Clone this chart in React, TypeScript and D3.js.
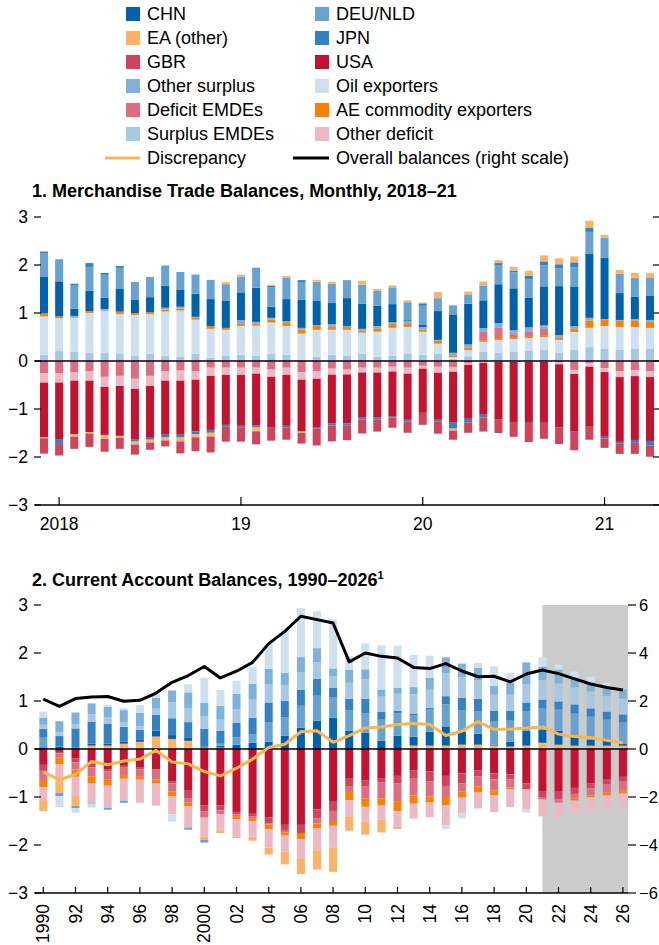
import React from 'react';
import * as d3 from 'd3';

const FONT = "'Liberation Sans', Arial, sans-serif";

// ---------- Panel 1: monthly merchandise trade balances (Dec 2017 – Apr 2021) ----------
const months: Date[] = d3.timeMonths(new Date(2017, 11, 1), new Date(2021, 4, 1));
const p1YearTickLabels = ['2018', '19', '20', '21'];

const p1SurplusEMDE = [0.13,0.22,0.19,0.17,0.17,0.15,0.11,0.15,0.11,0.09,0.15,0.07,0.11,0.13,0.11,0.15,0.13,0.03,0.09,0.13,0.11,0.15,0.09,0.11,0.15,0.13,0.15,0.04,0.1,0.19,0.17,0.19,0.21,0.23,0.17,0.23,0.29,0.25,0.23,0.25,0.25];
const p1Oil = [0.8,0.67,0.71,0.83,0.875,0.83,0.85,0.83,0.92,0.96,0.71,0.6,0.54,0.6,0.625,0.65,0.6,0.54,0.56,0.52,0.54,0.44,0.52,0.58,0.56,0.48,0.21,0.04,0.125,0.21,0.27,0.27,0.27,0.27,0.27,0.375,0.4,0.48,0.48,0.46,0.44];
const p1AEComm = [0.05,0.04,-0.02,0.04,-0.02,0.05,0.04,0.04,0.04,0.04,0.04,0.06,0.04,0.04,0.04,0.06,0.08,0.08,0.08,0.06,0.06,0.04,0.06,0.08,0.06,0.04,0.06,0.04,0.06,0.035,0.04,0.04,0.04,0.04,0.04,0.06,0.15,0.125,0.125,0.125,0.125];
const p1DeficitEMDE = [-0.26,-0.26,-0.22,-0.22,-0.31,-0.31,-0.37,-0.31,-0.22,-0.2,-0.22,-0.14,-0.14,-0.14,-0.14,-0.18,-0.14,-0.24,-0.22,-0.16,-0.18,-0.14,-0.14,-0.12,-0.14,-0.1,-0.12,-0.125,-0.04,0.17,0.21,0.06,0.1,0.125,-0.02,-0.19,-0.04,-0.15,-0.21,-0.19,-0.21];
const p1OtherDeficit = [-0.19,-0.19,-0.17,-0.19,-0.21,-0.21,-0.21,-0.21,-0.19,-0.21,-0.17,-0.17,-0.15,-0.15,-0.125,-0.15,-0.15,-0.15,-0.15,-0.125,-0.1,-0.1,-0.1,-0.1,-0.125,-0.06,-0.125,-0.1,-0.04,-0.04,-0.02,-0.02,-0.02,-0.02,-0.05,-0.08,-0.08,-0.08,-0.125,-0.125,-0.125];
const p1OtherSurplus = [0.01,0,0.04,0,0.04,0,0,0,0.04,0.04,0.02,0,0,0.08,0.04,0.04,0.02,0.04,0.02,0.06,0.02,0.04,0.06,0.04,0.06,0.06,0.02,0.05,0.06,0.08,0.1,0.08,0.08,0.08,0.06,0.06,0.06,0.02,0.02,0.04,0.04];
const p1USA = [-1.14,-1.19,-1.12,-1.07,-1.0,-1.04,-1.06,-1.08,-1.125,-1.125,-1.08,-1.125,-1.04,-1.06,-1.08,-1.06,-1.06,-1.08,-1.02,-1.02,-1.02,-0.94,-0.94,-0.94,-0.96,-0.92,-0.98,-1.06,-1.125,-1.08,-1.19,-1.25,-1.25,-1.25,-1.31,-1.19,-1.25,-1.35,-1.35,-1.33,-1.33];
const p1CHN = [0.76,0.73,0.15,0.42,0.23,0.47,0.27,0.31,0.46,0.35,0.48,0.56,0.56,0.58,0.71,0.23,0.46,0.58,0.5,0.44,0.58,0.52,0.42,0.375,0.02,0.04,0.6,0.8,0.85,0.58,0.81,0.875,0.625,0.81,1.02,0.83,1.33,1.27,0.56,0.46,0.5];
const p1DEU = [0.49,0.46,0.48,0.5,0.48,0.44,0.375,0.42,0.42,0.375,0.4,0.4,0.35,0.33,0.42,0.4,0.44,0.375,0.4,0.4,0.375,0.4,0.31,0.35,0.375,0.4,0.27,0.19,0.19,0.31,0.4,0.33,0.375,0.44,0.375,0.4,0.46,0.42,0.4,0.4,0.375];
const p1JPN = [0.04,-0.09,0.04,0.08,0.04,0.04,-0.04,-0.04,-0.06,-0.06,-0.06,-0.06,-0.04,-0.03,-0.04,0.04,-0.04,0.04,-0.02,-0.04,-0.04,-0.04,-0.04,-0.02,-0.04,0.05,-0.04,-0.125,-0.08,-0.06,0.04,0.04,0.08,0.08,0.08,0.1,0.08,-0.04,-0.04,-0.06,-0.1];
const p1EA = [-0.02,0,-0.05,-0.03,-0.08,-0.04,-0.06,-0.06,-0.06,-0.08,-0.06,-0.08,0.04,0.04,-0.08,0.02,0.04,-0.03,0.04,0.04,0,0.08,0.04,0.04,0.04,0.02,0.125,-0.04,0.06,0.08,0.06,0.08,0.1,0.125,0.125,0.125,0.15,0.06,0.08,0.1,0.1];
const p1GBR = [-0.32,-0.24,-0.25,-0.28,-0.27,-0.23,-0.21,-0.15,-0.125,-0.25,-0.29,-0.33,-0.31,-0.3,-0.27,-0.27,-0.25,-0.22,-0.35,-0.33,-0.31,-0.29,-0.25,-0.21,-0.23,-0.25,-0.25,-0.19,-0.21,-0.29,-0.29,-0.31,-0.42,-0.35,-0.35,-0.4,-0.27,-0.19,-0.21,-0.23,-0.23];

// ---------- Panel 2: annual current account balances, 1990–2026 ----------
const years: number[] = d3.range(1990, 2027);
const p2YearLabels = ['1990','92','94','96','98','2000','02','04','06','08','10','12','14','16','18','20','22','24','26'];
const projectionStart = 2021;

const p2USA = [-0.33,-0.06,-0.2,-0.3,-0.43,-0.35,-0.39,-0.43,-0.68,-0.87,-1.18,-1.18,-1.31,-1.35,-1.43,-1.58,-1.58,-1.26,-1.1,-0.62,-0.66,-0.62,-0.56,-0.45,-0.47,-0.56,-0.51,-0.45,-0.51,-0.53,-0.72,-0.89,-0.89,-0.81,-0.72,-0.64,-0.58];
const p2GBR = [-0.125,-0.03,-0.08,-0.08,-0.04,-0.04,-0.04,0,-0.04,-0.15,-0.125,-0.1,-0.05,-0.06,-0.125,-0.125,-0.17,-0.19,-0.19,-0.15,-0.125,-0.08,-0.15,-0.17,-0.21,-0.21,-0.21,-0.125,-0.125,-0.1,-0.125,-0.125,-0.15,-0.125,-0.1,-0.1,-0.1];
const p2DeficitEMDE = [-0.19,-0.08,-0.15,-0.19,-0.17,-0.15,-0.15,-0.21,-0.17,-0.1,-0.125,-0.08,-0.04,-0.03,-0.02,-0.04,0,-0.1,-0.21,-0.125,-0.25,-0.33,-0.375,-0.35,-0.31,-0.23,-0.17,-0.21,-0.23,-0.17,0,-0.04,-0.08,-0.1,-0.15,-0.17,-0.19];
const p2AEComm = [-0.15,-0.15,-0.15,-0.15,-0.125,-0.08,-0.06,-0.08,-0.1,-0.08,0.03,0.03,-0.06,-0.06,-0.1,-0.06,-0.125,-0.1,-0.1,-0.17,-0.17,-0.15,-0.21,-0.17,-0.125,-0.17,-0.125,-0.125,-0.1,-0.04,0.02,0.02,0.02,-0.04,-0.04,-0.06,-0.06];
const p2OtherDeficit = [-0.27,-0.35,-0.4,-0.4,-0.46,-0.46,-0.48,-0.46,-0.375,-0.44,-0.4,-0.35,-0.375,-0.33,-0.375,-0.33,-0.4,-0.46,-0.46,-0.35,-0.31,-0.29,-0.33,-0.31,-0.31,-0.42,-0.33,-0.33,-0.35,-0.375,-0.42,-0.35,-0.31,-0.27,-0.27,-0.25,-0.27];
const p2EA = [-0.23,-0.25,-0.21,0.07,0.07,0.11,0.15,0.26,0.21,0.17,-0.06,-0.04,-0.02,-0.08,-0.15,-0.27,-0.33,-0.4,-0.5,-0.29,-0.27,-0.27,-0.04,0.07,0.07,0.07,0.09,0.09,0.07,0.05,0.05,0.11,0.07,0.07,0.07,0.07,0.07];
const p2CHN = [0.035,0.05,0.03,0.04,0.04,0.04,0.04,0.125,0.08,0.06,0.02,0.04,0.09,0.13,0.15,0.28,0.44,0.59,0.65,0.38,0.34,0.17,0.28,0.19,0.29,0.4,0.27,0.23,0.02,0.1,0.31,0.27,0.29,0.19,0.125,0.1,0.04];
const p2DEU = [0.2,-0.06,-0.04,-0.02,-0.04,-0.04,0,0,0,-0.04,-0.06,0.04,0.15,0.17,0.4,0.375,0.46,0.52,0.42,0.42,0.4,0.44,0.46,0.44,0.46,0.46,0.44,0.46,0.48,0.44,0.4,0.44,0.44,0.48,0.48,0.44,0.44];
const p2JPN = [0.19,0.22,0.4,0.46,0.42,0.31,0.21,0.33,0.35,0.33,0.375,0.27,0.31,0.35,0.42,0.35,0.33,0.35,0.21,0.25,0.31,0.17,0.06,0.04,0.04,0.17,0.27,0.27,0.23,0.21,0.19,0.19,0.17,0.19,0.17,0.17,0.17];
const p2SurplusEMDE = [0.08,0.08,0.08,0.15,0.125,0.1,0.08,0.125,0.33,0.29,0.25,0.23,0.27,0.375,0.375,0.33,0.375,0.35,0.23,0.33,0.4,0.31,0.35,0.4,0.375,0.48,0.42,0.375,0.33,0.33,0.375,0.4,0.375,0.35,0.35,0.33,0.33];
const p2OtherSurplus = [0.15,0.23,0.25,0.23,0.23,0.25,0.27,0.23,0.25,0.33,0.29,0.29,0.33,0.33,0.33,0.25,0.31,0.29,0.17,0.27,0.21,0.15,0.125,0.15,0.25,0.33,0.29,0.27,0.19,0.25,0.46,0.29,0.29,0.21,0.19,0.15,0.19];
const p2Oil = [0.125,-0.23,-0.1,-0.08,0.04,0.04,0.17,0.08,-0.15,0.17,0.52,0.33,0.27,0.35,0.52,0.9,1.02,0.77,1.02,0.29,0.54,0.92,0.875,0.67,0.46,-0.08,-0.1,0.1,0.4,0.21,-0.06,0.19,0.1,0.125,0.125,0.125,0];
const p2Discrepancy = [-0.48,-0.64,-0.53,-0.26,-0.33,-0.25,-0.21,-0.03,-0.27,-0.31,-0.47,-0.56,-0.4,-0.21,0.03,0.1,0.36,0.38,0.14,0.28,0.44,0.46,0.51,0.53,0.51,0.28,0.37,0.57,0.41,0.41,0.44,0.46,0.31,0.26,0.24,0.18,0.125];
const p2Overall = [2.08,1.78,2.1,2.17,2.19,1.99,2.03,2.33,2.78,3.06,3.44,2.96,3.24,3.61,4.39,4.9,5.53,5.39,5.25,3.63,4.0,3.86,3.79,3.4,3.35,3.56,3.25,3.01,3.03,2.8,3.125,3.29,3.14,2.92,2.71,2.56,2.46];

const leftTicks = [-3, -2, -1, 0, 1, 2, 3];
const rightTicks = [-6, -4, -2, 0, 2, 4, 6];

const COLORS: Record<string, string> = {
  chn: '#0061ad', deu: '#67a2d2', ea: '#fdb265', jpn: '#3581c1', gbr: '#d1435b', usa: '#c41230',
  otherSurplus: '#80b1d9', oil: '#cde0f0', deficitEMDE: '#de6d82', aeComm: '#ff8000',
  surplusEMDE: '#a7c8e5', otherDeficit: '#edb8c4', discrepancy: '#fbb54e', overall: '#000000',
};

const legendLeft = [
  { key: 'chn', label: 'CHN' }, { key: 'ea', label: 'EA (other)' }, { key: 'gbr', label: 'GBR' },
  { key: 'otherSurplus', label: 'Other surplus' }, { key: 'deficitEMDE', label: 'Deficit EMDEs' },
  { key: 'surplusEMDE', label: 'Surplus EMDEs' }, { key: 'discrepancy', label: 'Discrepancy', line: true },
];
const legendRight = [
  { key: 'deu', label: 'DEU/NLD' }, { key: 'jpn', label: 'JPN' }, { key: 'usa', label: 'USA' },
  { key: 'oil', label: 'Oil exporters' }, { key: 'aeComm', label: 'AE commodity exporters' },
  { key: 'otherDeficit', label: 'Other deficit' }, { key: 'overall', label: 'Overall balances (right scale)', line: true },
];

const P1_KEYS = ['surplusEMDE','oil','aeComm','deficitEMDE','otherDeficit','otherSurplus','usa','chn','deu','jpn','ea','gbr'];
const P2_KEYS = ['usa','gbr','deficitEMDE','aeComm','otherDeficit','ea','chn','deu','jpn','surplusEMDE','otherSurplus','oil'];

const fmt = (v: number) => (v < 0 ? '\u2212' + Math.abs(v) : String(v));
const TICK_FS = 17.5;

function Bars({ layers, x, y, ids, w }: any) {
  return (
    <g>
      {layers.map((layer: any) => (
        <g key={layer.key} fill={COLORS[layer.key]}>
          {layer.map((d: any, i: number) => {
            const top = y(Math.max(d[0], d[1]));
            const bot = y(Math.min(d[0], d[1]));
            const h = bot - top;
            if (h <= 0.01) return null;
            return <rect key={i} x={x(ids[i]) - w / 2} y={top} width={w} height={h} />;
          })}
        </g>
      ))}
    </g>
  );
}

function Panel1() {
  const ids = months.map((m) => +m);
  const rows = months.map((m, i) => ({
    surplusEMDE: p1SurplusEMDE[i], oil: p1Oil[i], aeComm: p1AEComm[i], deficitEMDE: p1DeficitEMDE[i],
    otherDeficit: p1OtherDeficit[i], otherSurplus: p1OtherSurplus[i], usa: p1USA[i], chn: p1CHN[i],
    deu: p1DEU[i], jpn: p1JPN[i], ea: p1EA[i], gbr: p1GBR[i],
  }));
  const layers = d3.stack<any>().keys(P1_KEYS).offset(d3.stackOffsetDiverging)(rows);
  const x = d3.scalePoint<number>().domain(ids).range([44, 650]);
  const y = d3.scaleLinear().domain([-3, 3]).range([505, 217]);
  const janIdx = months.map((m, i) => (m.getMonth() === 0 ? i : -1)).filter((i) => i >= 0);
  return (
    <g>
      <text x={32} y={197} fontSize={18} fontWeight="bold">1. Merchandise Trade Balances, Monthly, 2018–21</text>
      <Bars layers={layers} x={(v: number) => x(v) as number} y={y} ids={ids} w={8} />
      <line x1={35} x2={659} y1={y(0)} y2={y(0)} stroke="#000" strokeWidth={1.5} />
      <line x1={35} x2={659} y1={y(-3)} y2={y(-3)} stroke="#000" strokeWidth={1.5} />
      {leftTicks.map((t) => (
        <g key={t}>
          <line x1={34} x2={41} y1={y(t)} y2={y(t)} stroke="#000" strokeWidth={1.2} />
          <text x={28} y={y(t)} textAnchor="end" dominantBaseline="central" fontSize={TICK_FS}>{fmt(t)}</text>
          <line x1={653} x2={659} y1={y(t)} y2={y(t)} stroke="#000" strokeWidth={1.2} />
        </g>
      ))}
      {janIdx.map((i, k) => (
        <g key={i}>
          <line x1={x(ids[i])} x2={x(ids[i])} y1={497} y2={505} stroke="#000" strokeWidth={1.2} />
          <text x={x(ids[i])} y={530} textAnchor="middle" fontSize={TICK_FS}>{p1YearTickLabels[k]}</text>
        </g>
      ))}
    </g>
  );
}

function Panel2() {
  const rows = years.map((yr, i) => ({
    usa: p2USA[i], gbr: p2GBR[i], deficitEMDE: p2DeficitEMDE[i], aeComm: p2AEComm[i],
    otherDeficit: p2OtherDeficit[i], ea: p2EA[i], chn: p2CHN[i], deu: p2DEU[i], jpn: p2JPN[i],
    surplusEMDE: p2SurplusEMDE[i], otherSurplus: p2OtherSurplus[i], oil: p2Oil[i],
  }));
  const layers = d3.stack<any>().keys(P2_KEYS).offset(d3.stackOffsetDiverging)(rows);
  const x = d3.scalePoint<number>().domain(years).range([43.3, 622.9]);
  const y = d3.scaleLinear().domain([-3, 3]).range([893, 605]);
  const yr = d3.scaleLinear().domain([-6, 6]).range([893, 605]);
  const xs = (v: number) => x(v) as number;
  const discLine = d3.line<number>().x((_, i) => xs(years[i])).y((d) => y(d))(p2Discrepancy) as string;
  const overallLine = d3.line<number>().x((_, i) => xs(years[i])).y((d) => yr(d))(p2Overall) as string;
  const evenYears = years.filter((v) => v % 2 === 0);
  return (
    <g>
      <text x={32} y={586} fontSize={18} fontWeight="bold">
        2. Current Account Balances, 1990–2026<tspan dy={-7} fontSize={11}>1</tspan>
      </text>
      <rect x={xs(projectionStart)} y={605} width={628 - xs(projectionStart)} height={288} fill="#cbcbcb" />
      <Bars layers={layers} x={xs} y={y} ids={years} w={8} />
      <line x1={35} x2={628} y1={y(0)} y2={y(0)} stroke="#000" strokeWidth={1.5} />
      <line x1={35} x2={628} y1={893} y2={893} stroke="#000" strokeWidth={1.5} />
      <path d={discLine} fill="none" stroke={COLORS.discrepancy} strokeWidth={3} strokeLinejoin="round" />
      <path d={overallLine} fill="none" stroke="#000" strokeWidth={3} strokeLinejoin="round" />
      {leftTicks.map((t) => (
        <g key={t}>
          <line x1={34} x2={41} y1={y(t)} y2={y(t)} stroke="#000" strokeWidth={1.2} />
          <text x={28} y={y(t)} textAnchor="end" dominantBaseline="central" fontSize={TICK_FS}>{fmt(t)}</text>
        </g>
      ))}
      {rightTicks.map((t) => (
        <g key={t}>
          <line x1={628} x2={636} y1={yr(t)} y2={yr(t)} stroke="#000" strokeWidth={1.2} />
          <text x={639} y={yr(t)} textAnchor="start" dominantBaseline="central" fontSize={16.5}>{fmt(t)}</text>
        </g>
      ))}
      {evenYears.map((v, k) => (
        <g key={v}>
          <line x1={xs(v)} x2={xs(v)} y1={887} y2={893} stroke="#000" strokeWidth={1.2} />
          <text transform={`translate(${xs(v)},904) rotate(-90)`} textAnchor="end" dominantBaseline="central" fontSize={TICK_FS}>{p2YearLabels[k]}</text>
        </g>
      ))}
    </g>
  );
}

function Legend() {
  const rowY = (i: number) => 14 + i * 24;
  const col = (items: any[], sx: number, tx: number, lineX1: number) =>
    items.map((it, i) => (
      <g key={it.key}>
        {it.line ? (
          <line x1={lineX1} x2={sx + 14} y1={rowY(i)} y2={rowY(i)} stroke={COLORS[it.key]} strokeWidth={3} />
        ) : (
          <rect x={sx} y={rowY(i) - 7} width={14} height={14} fill={COLORS[it.key]} />
        )}
        <text x={tx} y={rowY(i)} dominantBaseline="central" fontSize={18}>{it.label}</text>
      </g>
    ));
  return (
    <g>
      {col(legendLeft, 126, 147, 105)}
      {col(legendRight, 315, 336, 293)}
    </g>
  );
}

export default function App() {
  return (
    <svg width={659} height={945} style={{ position: 'absolute', left: 0, top: 0, background: '#fff' }}
      fontFamily={FONT} fill="#000">
      <rect width={659} height={945} fill="#fff" />
      <Legend />
      <Panel1 />
      <Panel2 />
    </svg>
  );
}
